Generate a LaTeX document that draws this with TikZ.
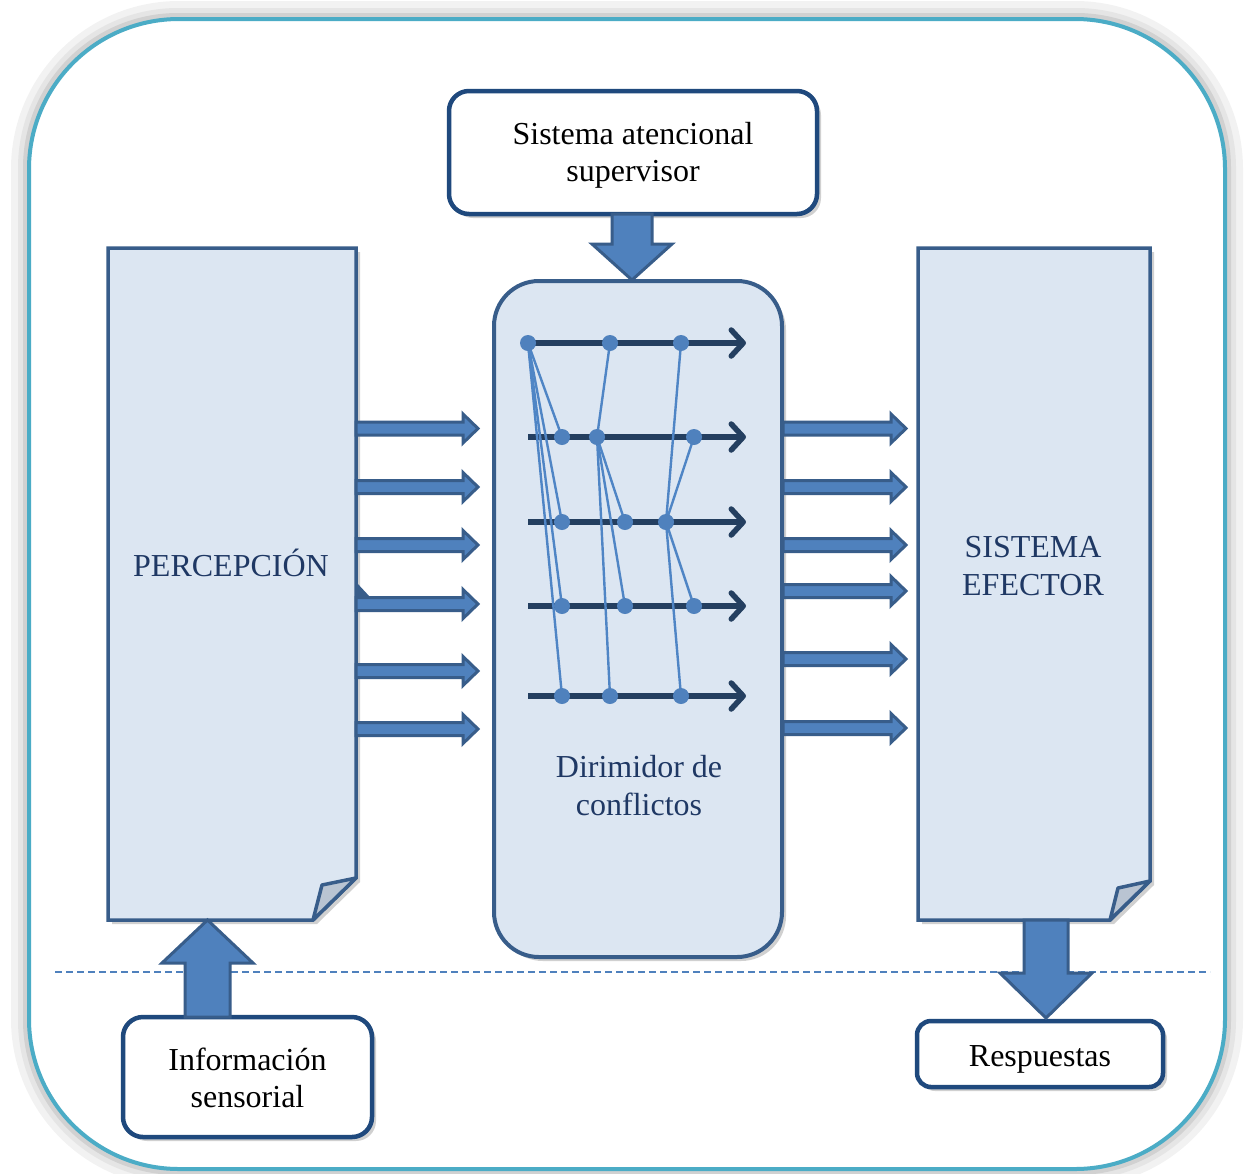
\documentclass[tikz,border=0pt]{standalone}
\usepackage{fontspec}
\setmainfont{Liberation Serif}
\usetikzlibrary{shadows,arrows.meta,calc}
\definecolor{teal}{HTML}{4BACC6}
\definecolor{bdark}{HTML}{1F497D}
\definecolor{bmid}{HTML}{385D8A}
\definecolor{bfill}{HTML}{DCE6F2}
\definecolor{barrow}{HTML}{4F81BD}
\definecolor{navy}{HTML}{243F60}
\definecolor{txtblue}{HTML}{1F3864}
\definecolor{fold}{HTML}{B9C4D2}
\definecolor{thin}{HTML}{4F85C5}
\tikzset{
  shad/.style={drop shadow={shadow xshift=4pt,shadow yshift=-4pt,opacity=0.3,fill=black!60}},
  whitebox/.style={draw=bdark,line width=4.5pt,fill=white,rounded corners=20pt,shad,inner sep=0pt},
  boxtxt/.style={align=center,inner sep=0pt,font=\fontsize{32}{37}\selectfont},
  midbox/.style={draw=bmid,line width=4pt,fill=bfill,rounded corners=45pt,shad,inner sep=0pt},
  docpath/.style={draw=bmid,line width=3.5pt,fill=bfill,line join=miter,shad},
  foldpath/.style={draw=bmid,line width=3.5pt,fill=fold,line join=round},
  lbl/.style={align=center,text=txtblue,font=\fontsize{32}{38}\selectfont,inner sep=0pt},
  blk/.style={draw=bmid,line width=3pt,fill=barrow,line join=miter},
  vblk/.style={draw=bmid,line width=3pt,fill=barrow,line join=miter},
  flow/.style={draw=navy,line width=5.5pt,-{Straight Barb[length=12pt,width=26pt,line width=5.5pt,round]}},
  link/.style={draw=thin,line width=2.4pt},
  dot/.style={circle,fill=barrow,inner sep=0pt,minimum size=16pt},
}
\begin{document}
\begin{tikzpicture}[x=1pt,y=-1pt]
\useasboundingbox (0,0) rectangle (1246,1173);
% outer frame with glow
\draw[line width=20pt,black!5,rounded corners=158pt] (21,11) rectangle (1233,1177);
\draw[line width=12pt,black!10,rounded corners=154pt] (24,14) rectangle (1230,1174);
\draw[line width=6pt,black!18,rounded corners=152pt] (26,16) rectangle (1228,1172);
\draw[line width=4pt,draw=teal,fill=white,rounded corners=150pt] (29,19) rectangle (1225,1169);

% dashed line
\draw[barrow,line width=1.5pt,dash pattern=on 7pt off 4pt] (55,972) -- (1210,972);

% top box
\node[whitebox,minimum width=368pt,minimum height=123pt] (sas) at (633,152.5) {};
\node[boxtxt] (sastxt) at (633,155) {Sistema atencional\\supervisor};
% middle box
\node[midbox,minimum width=288pt,minimum height=676pt] (mid) at (638,619) {};
\node[lbl] (dir) at (639,786) {Dirimidor de\\conflictos};

% PERCEPCION document
\path[docpath] (108,248) -- (356,248) -- (356,878) -- (313,920) -- (108,920) -- cycle;
\path[foldpath] (356,878) -- (322,885) -- (313,920) -- cycle;
\fill[bmid] (357,583) -- (370,597) -- (357,597) -- cycle;
\node[lbl] (perc) at (231,563) {PERCEPCIÓN};

% SISTEMA EFECTOR document
\path[docpath] (918,248) -- (1150,248) -- (1150,881) -- (1110,920) -- (918,920) -- cycle;
\path[foldpath] (1150,881) -- (1118,888) -- (1110,920) -- cycle;
\node[lbl] (efec) at (1033,566) {SISTEMA\\EFECTOR};

% bottom boxes
\node[whitebox,minimum width=249pt,minimum height=120pt] (info) at (247.5,1077) {};
\node[boxtxt] (infotxt) at (247.5,1078) {Información\\sensorial};
\node[whitebox,minimum width=246pt,minimum height=66pt,rounded corners=14pt] (resp) at (1040,1054) {};
\node[boxtxt,anchor=base] (resptxt) at (1040,1066) {Respuestas};

% vertical block arrows
\path[vblk] (612,214) -- (652,214) -- (652,244) -- (672,244) -- (632,280) -- (592,244) -- (612,244) -- cycle;
\path[vblk] (185,1017) -- (185,963) -- (162,963) -- (207.5,920) -- (253,963) -- (230,963) -- (230,1017) -- cycle;
\path[vblk] (1024,920) -- (1068,920) -- (1068,973) -- (1092,973) -- (1046,1018) -- (1000,973) -- (1024,973) -- cycle;

% horizontal block arrows (left)
\foreach \y in {428.5,487,545,604,671,729}{
  \path[blk] (356,\y-6.5) -- (463,\y-6.5) -- (463,\y-14.5) -- (478,\y) -- (463,\y+14.5) -- (463,\y+6.5) -- (356,\y+6.5) -- cycle;
}
% horizontal block arrows (right)
\foreach \y in {428.5,487,545,591,659,728}{
  \path[blk] (783,\y-6.5) -- (891,\y-6.5) -- (891,\y-14.5) -- (906,\y) -- (891,\y+14.5) -- (891,\y+6.5) -- (783,\y+6.5) -- cycle;
}

% network
\foreach \r/\y in {1/343,2/437,3/522,4/606,5/696}{
  \coordinate (s\r) at (528,\y);
  \coordinate (e\r) at (746,\y);
  \draw[flow] (s\r) -- (e\r);
}
\coordinate (a1) at (528,343); \coordinate (a2) at (610,343); \coordinate (a3) at (681,343);
\coordinate (b1) at (562,437); \coordinate (b2) at (597,437); \coordinate (b3) at (694,437);
\coordinate (c1) at (562,522); \coordinate (c2) at (625,522); \coordinate (c3) at (666,522);
\coordinate (d1) at (562,606); \coordinate (d2) at (625,606); \coordinate (d3) at (694,606);
\coordinate (f1) at (562,696); \coordinate (f2) at (610,696); \coordinate (f3) at (681,696);
\draw[link] (a1) -- (b1); \draw[link] (a1) -- (c1); \draw[link] (a1) -- (d1); \draw[link] (a1) -- (f1);
\draw[link] (a2) -- (b2);
\draw[link] (a3) -- (c3);
\draw[link] (b2) -- (c2); \draw[link] (b2) -- (d2); \draw[link] (b2) -- (f2);
\draw[link] (b3) -- (c3);
\draw[link] (c3) -- (d3); \draw[link] (c3) -- (f3);
\foreach \n in {a1,a2,a3,b1,b2,b3,c1,c2,c3,d1,d2,d3,f1,f2,f3}{
  \node[dot] at (\n) {};
}
\end{tikzpicture}
\end{document}
